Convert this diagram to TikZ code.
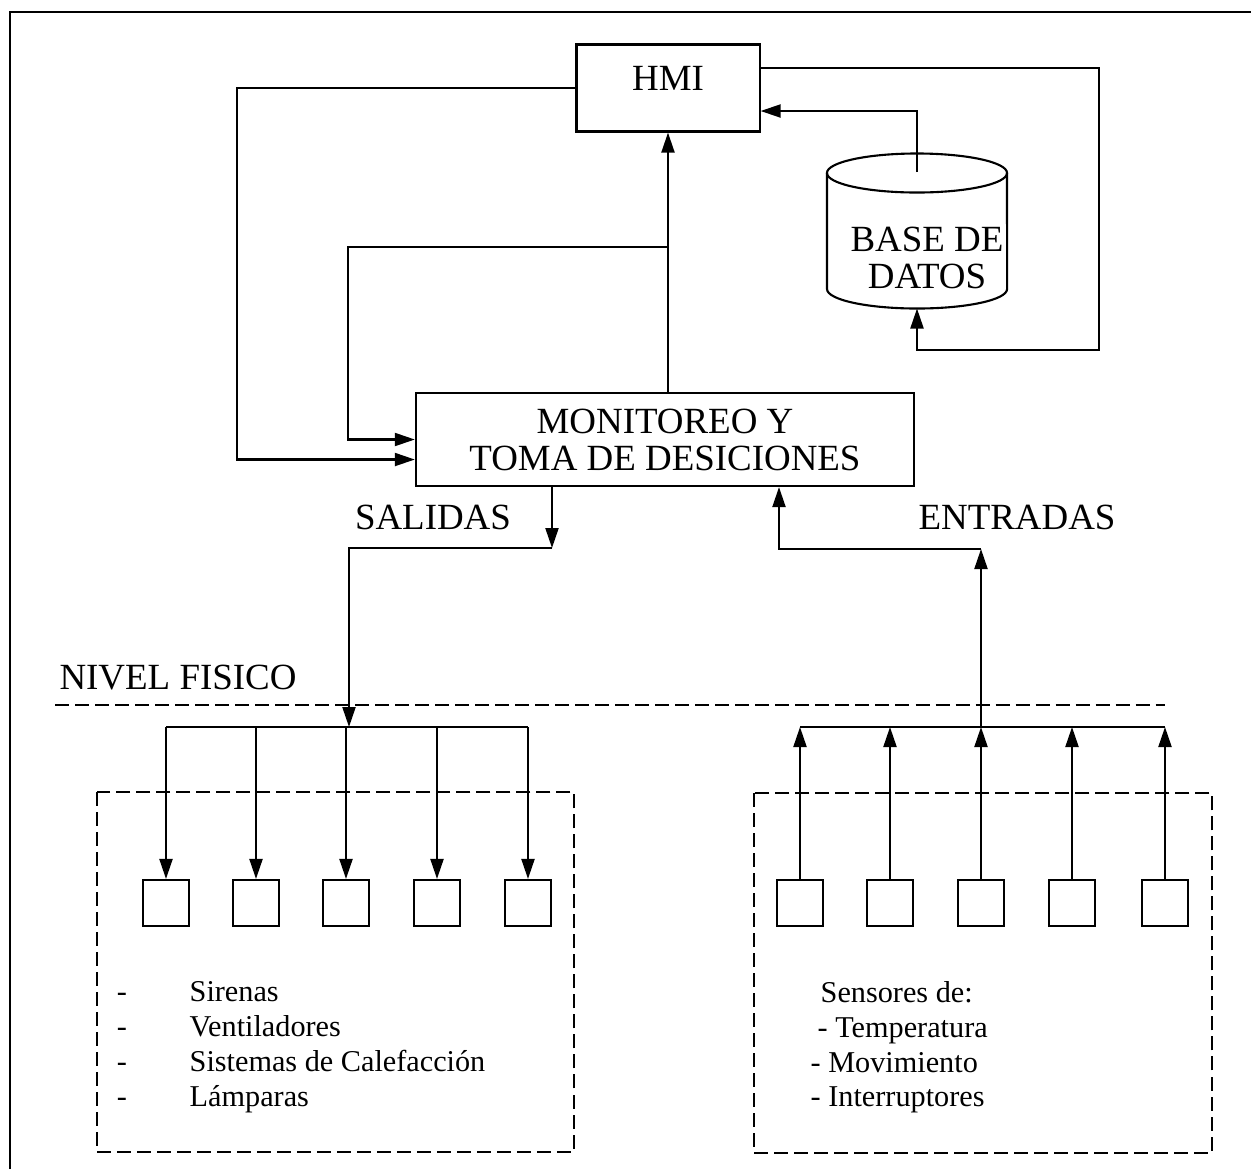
\documentclass[tikz,border=0pt]{standalone}
\usepackage{fontspec}
\setmainfont{Liberation Serif}
\usetikzlibrary{arrows.meta, positioning, calc}
\tikzset{
	boxtext/.style={font=\fontsize{10.5}{10.5}\selectfont}
}
\tikzset{
	listtext/.style={font=\fontsize{8.6}{10}\selectfont, inner sep=0pt}
}
\tikzset{
	block/.style={draw, line width=0.6pt, boxtext, inner sep=0pt},
	devbox/.style={draw, line width=0.6pt, minimum width=0.46cm, minimum height=0.46cm, inner sep=0pt},
	groupbox/.style={line width=0.6pt, dash pattern=on 1.4mm off 0.6mm},
	wire/.style={line width=0.6pt},
	arrowwire/.style={wire, -{Triangle[length=2mm,width=1.3mm]}}
}

\begin{document}
\begin{tikzpicture}[x=0.01cm, y=-0.01cm]
      \useasboundingbox (0,0) rectangle (1251,1169);
      % frame
      \draw[line width=0.8pt] (10,1169) -- (10,12) -- (1251,12);
      % upper level
      \node[block, minimum width=1.83cm, minimum height=0.87cm, text depth=0.2cm] (hmi) at (668,88) {HMI};
      \node[block, minimum width=4.98cm, minimum height=0.93cm, align=center] (mon) at (665,439.5) {MONITOREO Y\\TOMA DE DESICIONES};
      % base de datos (cylinder)
      \draw[wire] (827,173) -- (827,289) arc[start angle=180, end angle=360, x radius=0.9cm, y radius=0.195cm] -- (1007,173);
      \draw[wire] (917,173) ellipse [x radius=0.9cm, y radius=0.195cm];
      \coordinate (dbtop) at (917,172);
      \coordinate (dbbottom) at (917,308.5);
      \node[boxtext, align=center] (db) at (927,258) {BASE DE\\DATOS};
      % HMI <-> monitoreo
      \draw[arrowwire] (hmi.south |- mon.north) -- (hmi.south);
      \draw[arrowwire] (hmi.west) -| ([xshift=-1.78cm, yshift=-0.2cm]mon.west) -- ([yshift=-0.2cm]mon.west);
      \draw[arrowwire] (hmi.south |- 0,247) -| ([xshift=-0.67cm]mon.west) -- (mon.west);
      % base de datos <-> HMI
      \draw[arrowwire] (dbtop) |- (hmi.east |- 0,111);
      \draw[arrowwire] (hmi.east |- 0,68) -| (1099,350) -| (dbbottom);
      % salidas / entradas
      \coordinate (salida) at (552,548);
      \coordinate (outbus) at (349,727);
      \coordinate (entrada) at (981,549);
      \coordinate (inbus) at (981,727);
      \draw[arrowwire] (mon.south -| salida) -- (salida);
      \draw[arrowwire] (salida) -| (outbus);
      \draw[arrowwire] (inbus) -- (entrada);
      \draw[arrowwire] (entrada) -| (mon.south -| 779,0);
      \node[boxtext] (salidas) at (433,517) {SALIDAS};
      \node[boxtext] (entradas) at (1017,517) {ENTRADAS};
      % nivel fisico
      \node[boxtext] (nivel) at (178,678) {NIVEL FISICO};
      \draw[groupbox] (55,705) -- (1165,705);
      % actuadores
      \draw[groupbox] (97,792) rectangle (574,1152);
      \foreach \x [count=\i] in {166,256,346,437,528} {
        \node[devbox] (act\i) at (\x,903) {};
        \draw[arrowwire] (act\i.north |- outbus) -- (act\i.north);
      }
      \draw[wire] (act1.north |- outbus) -- (act5.north |- outbus);
      \foreach \t [count=\i] in {Sirenas, Ventiladores, Sistemas de Calefacción, Lámparas} {
        \node[listtext, anchor=base] (actdash\i) at (122,966+35*\i) {-};
        \node[listtext, anchor=base west] (acttext\i) at (189,966+35*\i) {\t};
      }
      % sensores
      \draw[groupbox] (754,793) rectangle (1212,1153);
      \foreach \x [count=\i] in {800,890,981,1072,1165} {
        \node[devbox] (sen\i) at (\x,903) {};
        \draw[arrowwire] (sen\i.north) -- (sen\i.north |- inbus);
      }
      \draw[wire] (sen1.north |- inbus) -- (sen5.north |- inbus);
      \node[listtext, anchor=base west] (sentext0) at (820,1002) {Sensores de:};
      \node[listtext, anchor=base west] (sentext1) at (817,1037) {- Temperatura};
      \node[listtext, anchor=base west] (sentext2) at (810,1072) {- Movimiento};
      \node[listtext, anchor=base west] (sentext3) at (810,1106) {- Interruptores};
    \end{tikzpicture}
\end{document}
